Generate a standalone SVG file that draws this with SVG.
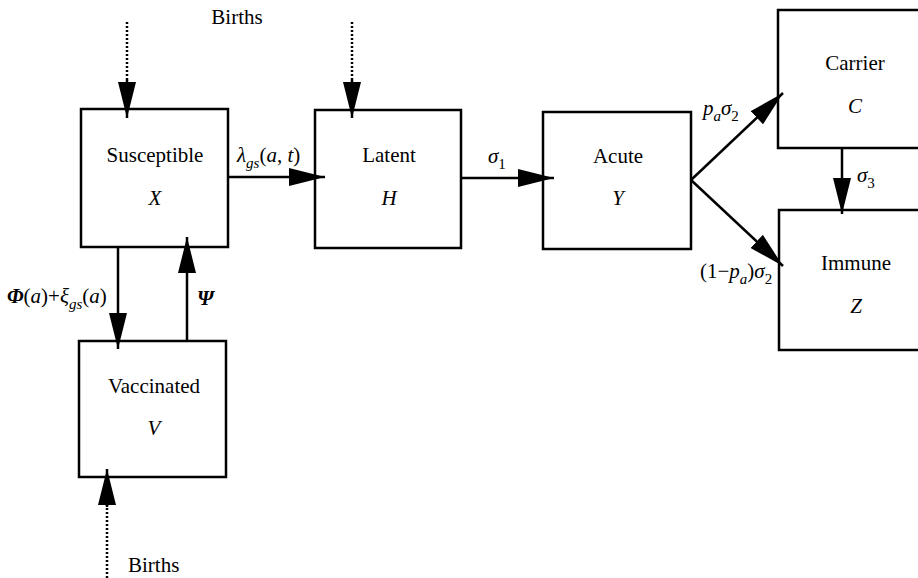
<svg xmlns="http://www.w3.org/2000/svg" width="918" height="578" viewBox="0 0 918 578">
<style>
text{font-family:"Liberation Serif","Times New Roman",serif;font-size:21px;fill:#000}
.c{text-anchor:middle}
.i{font-style:italic}
.b{font-weight:bold}
.s{font-size:15px}
.box{fill:#fff;stroke:#000;stroke-width:2.5}
.ln{stroke:#000;stroke-width:2.5;fill:none}
.dot{stroke:#000;stroke-width:2.5;fill:none;stroke-dasharray:2 2}
</style>
<defs>
<marker id="ah" viewBox="0 0 36 18" refX="36" refY="9" markerWidth="36" markerHeight="18" markerUnits="userSpaceOnUse" orient="auto">
<path d="M0,0 L36,9 L0,18 Z" fill="#000"/>
</marker>
</defs>
<rect x="0" y="0" width="918" height="578" fill="#fff"/>
<g id="susceptible"><rect class="box" x="81" y="109" width="147" height="138"/><text class="c" x="155" y="162">Susceptible</text><text class="c i" x="155" y="205">X</text></g>
<g id="latent"><rect class="box" x="315" y="110" width="146" height="138"/><text class="c" x="389" y="162">Latent</text><text class="c i" x="389" y="205">H</text></g>
<g id="acute"><rect class="box" x="543" y="112" width="148" height="137"/><text class="c" x="618" y="163">Acute</text><text class="c i" x="618" y="205">Y</text></g>
<g id="carrier"><rect class="box" x="778" y="10" width="160" height="138"/><text class="c" x="855" y="70">Carrier</text><text class="c i" x="855" y="113">C</text></g>
<g id="immune"><rect class="box" x="779" y="210" width="160" height="140"/><text class="c" x="856" y="270">Immune</text><text class="c i" x="856" y="313">Z</text></g>
<g id="vaccinated"><rect class="box" x="79" y="341" width="147" height="136"/><text class="c" x="154" y="393">Vaccinated</text><text class="c i" x="154" y="435">V</text></g>
<g id="connectors">
<line class="dot" x1="127" y1="22" x2="127" y2="82"/><line class="ln" x1="127" y1="80" x2="127" y2="118" marker-end="url(#ah)"/>
<line class="dot" x1="352" y1="22" x2="352" y2="82"/><line class="ln" x1="352" y1="80" x2="352" y2="118" marker-end="url(#ah)"/>
<line class="dot" x1="107" y1="578" x2="107" y2="505"/><line class="ln" x1="107" y1="507" x2="107" y2="469" marker-end="url(#ah)"/>
<line class="ln" x1="228" y1="177" x2="325" y2="177" marker-end="url(#ah)"/>
<line class="ln" x1="461" y1="178" x2="554" y2="178" marker-end="url(#ah)"/>
<line class="ln" x1="691" y1="180" x2="783" y2="93" marker-end="url(#ah)"/>
<line class="ln" x1="691" y1="180" x2="783" y2="266" marker-end="url(#ah)"/>
<line class="ln" x1="842" y1="148" x2="842" y2="214" marker-end="url(#ah)"/>
<line class="ln" x1="118" y1="247" x2="118" y2="349" marker-end="url(#ah)"/>
<line class="ln" x1="187" y1="341" x2="187" y2="237" marker-end="url(#ah)"/>
</g>
<g id="labels">
<text class="c" x="237" y="24">Births</text>
<text x="128" y="572">Births</text>
<text x="237" y="162"><tspan class="i">λ</tspan><tspan class="i s" dy="6">gs</tspan><tspan dy="-6">(</tspan><tspan class="i">a</tspan>, <tspan class="i">t</tspan>)</text>
<text x="488" y="163"><tspan class="i">σ</tspan><tspan class="s" dy="6">1</tspan></text>
<text x="703" y="115"><tspan class="i">p</tspan><tspan class="i s" dy="6">a</tspan><tspan class="i" dy="-6">σ</tspan><tspan class="s" dy="6">2</tspan></text>
<text x="700" y="278">(1−<tspan class="i">p</tspan><tspan class="i s" dy="6">a</tspan><tspan dy="-6">)</tspan><tspan class="i">σ</tspan><tspan class="s" dy="6">2</tspan></text>
<text x="857" y="182"><tspan class="i">σ</tspan><tspan class="s" dy="6">3</tspan></text>
<text x="7" y="303"><tspan class="i b">Φ</tspan>(<tspan class="i">a</tspan>)+<tspan class="i">ξ</tspan><tspan class="i s" dy="6">gs</tspan><tspan dy="-6">(</tspan><tspan class="i">a</tspan>)</text>
<text class="i b" x="197" y="305">Ψ</text>
</g>
</svg>
